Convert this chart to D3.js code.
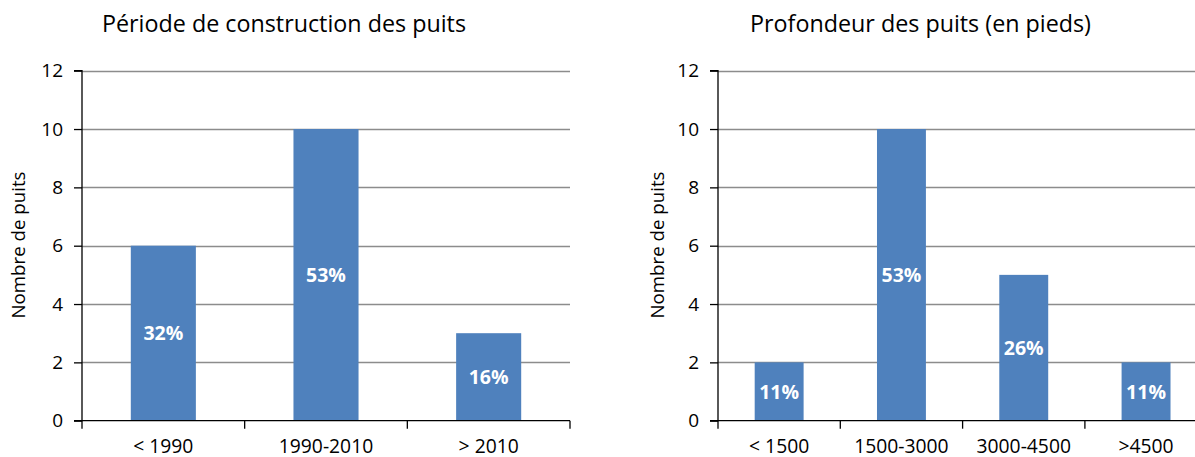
<!DOCTYPE html>
<html>
<head>
<meta charset="utf-8">
<script src="https://cdn.jsdelivr.net/npm/d3@7/dist/d3.min.js"></script>
<style>
  html, body { margin: 0; padding: 0; background: #fff; }
  svg { display: block; font-family: "Open Sans", "Noto Sans", sans-serif; }
</style>
</head>
<body>
<svg id="chart" width="1195" height="457"></svg>
<script>
// Well construction period
const periodCategories = ["< 1990", "1990-2010", "> 2010"];
const periodCounts = [6, 10, 3];

// Well depth (feet)
const depthCategories = ["< 1500", "1500-3000", "3000-4500", ">4500"];
const depthCounts = [2, 10, 5, 2];

const yTicks = [0, 2, 4, 6, 8, 10, 12];
const yLabel = "Nombre de puits";

const svg = d3.select("#chart");
const barColor = "#4F81BD";
const gridColor = "#8c8c8c";

function drawPanel(opts) {
  const { title, categories, counts, x0, x1, titleX, yLabelX } = opts;
  const g = svg.append("g");
  const top = 70.7, bottom = 420.7;

  const y = d3.scaleLinear().domain([0, 12]).range([bottom, top]);
  const x = d3.scaleBand().domain(categories).range([x0, x1]).padding(0);
  const total = d3.sum(counts);

  // gridlines
  g.append("g").selectAll("line")
    .data(yTicks.filter(t => t > 0))
    .join("line")
    .attr("x1", x0).attr("x2", x1)
    .attr("y1", d => Math.round(y(d)) + 0.5).attr("y2", d => Math.round(y(d)) + 0.5)
    .attr("stroke", gridColor).attr("stroke-width", 1.3);

  // bars
  const barW = x.bandwidth() * 0.4;
  g.append("g").selectAll("rect")
    .data(counts)
    .join("rect")
    .attr("x", (d, i) => x(categories[i]) + (x.bandwidth() - barW) / 2)
    .attr("y", d => y(d))
    .attr("width", barW)
    .attr("height", d => y(0) - y(d))
    .attr("fill", barColor);

  // percentage labels
  g.append("g").selectAll("text")
    .data(counts)
    .join("text")
    .attr("x", (d, i) => x(categories[i]) + x.bandwidth() / 2)
    .attr("y", d => y(d / 2))
    .attr("dy", "0.36em")
    .attr("text-anchor", "middle")
    .attr("fill", "#fff")
    .attr("font-weight", "bold")
    .attr("font-size", 19.5)
    .text(d => Math.round(d / total * 100) + "%");

  // y axis
  const yAxis = d3.axisLeft(y).tickValues(yTicks).tickSize(8).tickPadding(11);
  const ya = g.append("g").attr("transform", `translate(${x0},0)`).call(yAxis);
  ya.select(".domain").attr("stroke", "#000").attr("stroke-width", 1.3).attr("d", `M-8,${bottom}H0V${top}H-8`);
  ya.selectAll(".tick line").attr("stroke", "#000").attr("stroke-width", 1.3);
  ya.selectAll(".tick text").attr("font-size", 19).attr("fill", "#000")
    .attr("font-family", "'Open Sans', sans-serif");

  // x axis
  const xa = g.append("g").attr("transform", `translate(0,${bottom})`);
  xa.append("line").attr("x1", x0).attr("x2", x1).attr("y1", 0).attr("y2", 0)
    .attr("stroke", "#000").attr("stroke-width", 1.3);
  const bounds = categories.map(c => x(c)).concat([x0 + x.step() * categories.length]);
  xa.selectAll("line.tk").data(bounds).join("line").attr("class", "tk")
    .attr("x1", d => d).attr("x2", d => d).attr("y1", 0).attr("y2", 8)
    .attr("stroke", "#000").attr("stroke-width", 1.3);
  xa.selectAll("text").data(categories).join("text")
    .attr("x", d => x(d) + x.bandwidth() / 2)
    .attr("y", 32)
    .attr("text-anchor", "middle")
    .attr("font-size", 19.3)
    .attr("fill", "#000")
    .text(d => d);

  // y label
  g.append("text")
    .attr("transform", `translate(${yLabelX},245) rotate(-90)`)
    .attr("text-anchor", "middle")
    .attr("dy", "0.35em")
    .attr("font-size", 18.7)
    .attr("fill", "#000")
    .text(yLabel);

  // title
  g.append("text")
    .attr("x", titleX).attr("y", 32)
    .attr("font-size", 23.3)
    .attr("fill", "#000")
    .text(title);
}

drawPanel({
  title: "Période de construction des puits",
  categories: periodCategories,
  counts: periodCounts,
  x0: 82, x1: 570,
  titleX: 102, yLabelX: 18
});

drawPanel({
  title: "Profondeur des puits (en pieds)",
  categories: depthCategories,
  counts: depthCounts,
  x0: 718, x1: 718 + 122.3 * 4,
  titleX: 750, yLabelX: 657
});
</script>
</body>
</html>
